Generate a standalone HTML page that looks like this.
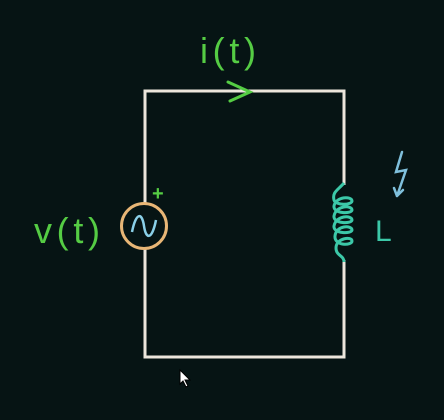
<!DOCTYPE html>
<html><head><meta charset="utf-8"><style>
html,body{margin:0;padding:0;background:#061414;}
svg{display:block}
text{font-family:"Liberation Sans",sans-serif}
</style></head><body>
<svg width="444" height="420" viewBox="0 0 444 420">
<rect width="444" height="420" fill="#061414"/>
<g fill="none" stroke="#ece6dc" stroke-width="3">
<path d="M145 203 V91 H344 V185"/>
<path d="M145 249 V357 H344 V260"/>
</g>
<path d="M228 82 L250 92 L230 101" fill="none" stroke="#55cc44" stroke-width="3" stroke-linecap="round"/>
<text x="200" y="63" fill="#55cc44" font-size="36" textLength="56">i(t)</text>
<circle cx="144" cy="226" r="22.5" fill="none" stroke="#e8b676" stroke-width="3"/>
<path d="M132 232 C136 212,142 212,144 226 C146 240,152 240,156 220" fill="none" stroke="#8ad0e8" stroke-width="2.5"/>
<text x="152" y="200" fill="#55cc44" font-size="20" font-weight="bold">+</text>
<text x="34" y="243" fill="#55cc44" font-size="36" textLength="66">v(t)</text>
<path d="M344 183 C338 190,332 192,334 200 C336 206,352 205,352 201 C352 196,336 196,334 206 C333 214,352 214,352 210 C352 205,336 205,334 216 C333 224,352 224,352 220 C352 215,336 215,334 226 C333 234,352 234,352 230 C352 225,336 225,335 236 C334 246,352 246,352 241 C352 236,336 238,336 248 C336 256,344 255,344 262" fill="none" stroke="#3cc8a8" stroke-width="3"/>
<text x="375" y="241" fill="#3cc8a8" font-size="30">L</text>
<path d="M402 152 L396 172 L406 170 L397 196 M397 196 L394 188 M397 196 L403 190" fill="none" stroke="#7fc0dc" stroke-width="2.5" stroke-linecap="round"/>
<path d="M180 370 v14 l3 -3 l3 6 l2 -1 l-3 -6 h5 z" fill="#fff" stroke="#000" stroke-width="1"/>
</svg>
</body></html>
